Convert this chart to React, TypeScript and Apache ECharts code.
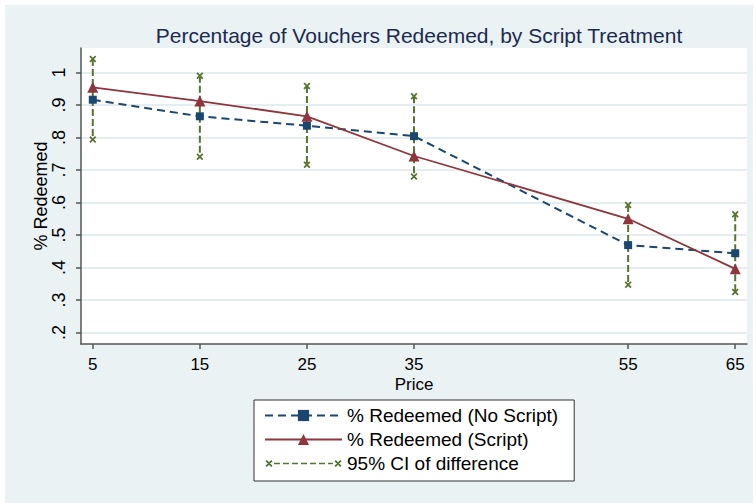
import React, { useEffect, useRef } from "react";
import * as echarts from "echarts";

const prices = [5, 15, 25, 35, 55, 65];
const noScript = [0.916, 0.865, 0.836, 0.804, 0.469, 0.444];
const script = [0.954, 0.912, 0.865, 0.743, 0.55, 0.396];
const ciUpper = [1.041, 0.99, 0.958, 0.927, 0.592, 0.564];
const ciLower = [0.794, 0.741, 0.716, 0.68, 0.347, 0.325];
const yTicks = [0.2, 0.3, 0.4, 0.5, 0.6, 0.7, 0.8, 0.9, 1.0];
const xTicks = [5, 15, 25, 35, 55, 65];

const NAME_NO = "% Redeemed (No Script)";
const NAME_YES = "% Redeemed (Script)";
const NAME_CI = "95% CI of difference";

const NAVY = "#1A476F";
const MAROON = "#90353B";
const GREEN = "#55752F";
const FONT = "'Liberation Sans', Arial, sans-serif";

function xShape(cx: number, cy: number, r: number, d: number) {
  const p = (pts: number[][]) =>
    "M" + pts.map((q) => q[0].toFixed(2) + "," + q[1].toFixed(2)).join("L") + "Z";
  return (
    p([
      [cx - r + d, cy - r],
      [cx + r, cy + r - d],
      [cx + r - d, cy + r],
      [cx - r, cy - r + d],
    ]) +
    p([
      [cx + r - d, cy - r],
      [cx + r, cy - r + d],
      [cx - r + d, cy + r],
      [cx - r, cy + r - d],
    ])
  );
}

const xSymbol = "path://" + xShape(5, 5, 5, 1.8);

function ciLegendIcon() {
  let d = "M0,0L0.05,0L0,0.05Z M77,14L76.95,14L77,13.95Z";
  d += xShape(4, 7, 3.5, 1.3);
  d += xShape(73, 7, 3.5, 1.3);
  for (let x = 9; x < 68; x += 9) {
    const e = Math.min(x + 6, 68);
    d += `M${x},6.2L${e},6.2L${e},7.8L${x},7.8Z`;
  }
  return "path://" + d;
}

export default function App() {
  const ref = useRef<HTMLDivElement>(null);
  useEffect(() => {
    if (!ref.current) return;
    const chart = echarts.init(ref.current, undefined, { renderer: "svg" });

    const ciSeries = prices.map((p, i) => ({
      type: "line",
      name: NAME_CI,
      data: [
        [p, ciUpper[i]],
        [p, ciLower[i]],
      ],
      symbol: xSymbol,
      symbolSize: 7,
      itemStyle: { color: GREEN },
      lineStyle: { color: GREEN, width: 2, type: [7, 3] },
      z: 2,
    }));

    chart.setOption({
      animation: false,
      backgroundColor: "#ffffff",
      textStyle: { fontFamily: FONT },
      graphic: [
        {
          type: "rect",
          shape: { x: 5, y: 5, width: 748, height: 498 },
          style: { fill: "#EAF2F3" },
          z: -10,
          silent: true,
        },
      ],
      title: {
        text: "Percentage of Vouchers Redeemed, by Script Treatment",
        left: 414,
        textAlign: "center",
        top: 20,
        textStyle: {
          fontFamily: FONT,
          fontSize: 21,
          fontWeight: "normal",
          color: "#1C2A52",
        },
      },
      grid: {
        left: 81,
        right: 9,
        top: 48,
        bottom: 160,
        show: true,
        backgroundColor: "#ffffff",
        borderWidth: 0,
      },
      legend: {
        orient: "vertical",
        left: 254,
        top: 400,
        padding: [6, 16, 8, 10],
        itemWidth: 77,
        itemHeight: 14,
        itemGap: 5,
        backgroundColor: "#ffffff",
        borderColor: "#333333",
        borderWidth: 1,
        borderRadius: 0,
        textStyle: {
          fontFamily: FONT,
          fontSize: 19,
          lineHeight: 19,
          color: "#000000",
        },
        data: [
          { name: NAME_NO },
          { name: NAME_YES },
          { name: NAME_CI, icon: ciLegendIcon() },
        ],
      },
      xAxis: {
        type: "value",
        min: 3.9,
        max: 66.1,
        name: "Price",
        nameLocation: "middle",
        nameGap: 32,
        nameMoveOverlap: false,
        nameTextStyle: { fontFamily: FONT, fontSize: 17, lineHeight: 16, color: "#000" },
        axisLine: { show: true, onZero: false, lineStyle: { color: "#555", width: 1.5 } },
        axisTick: {
          show: true,
          length: 5,
          customValues: xTicks,
          lineStyle: { color: "#555", width: 1.5 },
        },
        axisLabel: {
          customValues: xTicks,
          margin: 12,
          fontFamily: FONT,
          fontSize: 17,
          lineHeight: 16,
          color: "#000",
        },
        splitLine: { show: false },
      },
      yAxis: {
        type: "value",
        min: 0.165,
        max: 1.075,
        name: "% Redeemed",
        nameLocation: "middle",
        nameGap: 31,
        nameMoveOverlap: false,
        nameTextStyle: { fontFamily: FONT, fontSize: 18, color: "#000" },
        axisLine: { show: true, onZero: false, lineStyle: { color: "#555", width: 1.5 } },
        axisTick: {
          show: true,
          length: 5,
          customValues: yTicks,
          lineStyle: { color: "#555", width: 1.5 },
        },
        axisLabel: {
          customValues: yTicks,
          rotate: 90,
          margin: 13,
          fontFamily: FONT,
          fontSize: 18,
          color: "#000",
          formatter: (v: number) => {
            const r = Math.round(v * 10) / 10;
            return r >= 1 ? "1" : r.toFixed(1).replace(/^0/, "");
          },
        },
        splitLine: {
          show: true,
          lineStyle: { color: "#E4EDF0", width: 2 },
        },
      },
      series: [
        ...ciSeries,
        {
          type: "line",
          name: NAME_NO,
          data: prices.map((p, i) => [p, noScript[i]]),
          symbol: "rect",
          symbolSize: 8,
          itemStyle: { color: NAVY },
          lineStyle: { color: NAVY, width: 2, type: [8, 5] },
          z: 3,
        },
        {
          type: "line",
          name: NAME_YES,
          data: prices.map((p, i) => [p, script[i]]),
          symbol: "triangle",
          symbolSize: 11,
          itemStyle: { color: MAROON },
          lineStyle: { color: MAROON, width: 1.8 },
          z: 4,
        },
      ],
    });
    return () => chart.dispose();
  }, []);
  return (
    <div
      ref={ref}
      style={{ position: "fixed", left: 0, top: 0, width: 756, height: 504 }}
    />
  );
}
